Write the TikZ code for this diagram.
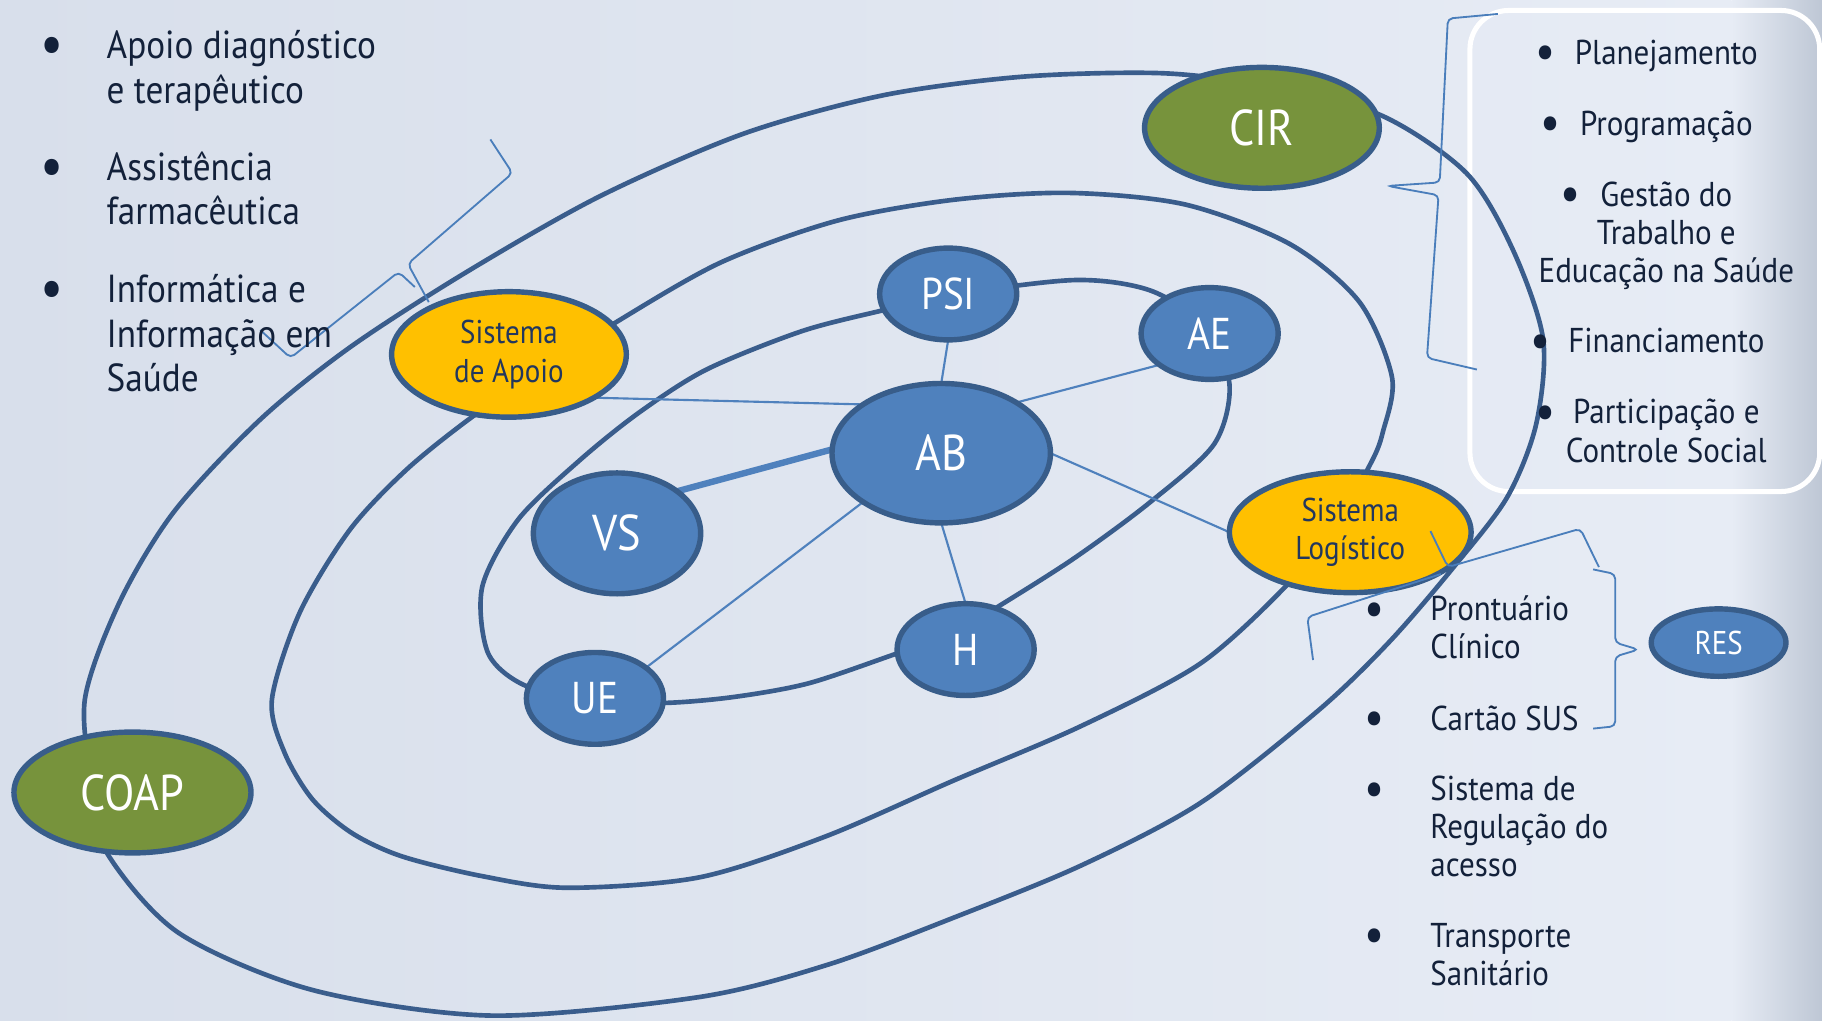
\documentclass[tikz,border=0pt]{standalone}
\usepackage{fontspec}
\setmainfont{PT Sans}[FakeStretch=0.88]
\newfontfamily\listfont{PT Sans}[FakeStretch=0.9]
\usetikzlibrary{shapes.geometric}

\definecolor{bgA}{HTML}{D8DFEB}
\definecolor{bgB}{HTML}{E7ECF5}
\definecolor{bgC}{HTML}{BEC7D5}
\definecolor{ringc}{HTML}{3A5D8C}
\definecolor{nodeblue}{HTML}{4F81BD}
\definecolor{edgeblue}{HTML}{385D8A}
\definecolor{lineblue}{HTML}{4A7EBB}
\definecolor{olive}{HTML}{77933C}
\definecolor{gold}{HTML}{FFC000}
\definecolor{navy}{HTML}{22375E}
\definecolor{ink}{HTML}{13213A}

\pgfdeclarelayer{bg}
\pgfdeclarelayer{links}
\pgfsetlayers{bg,links,main}

\begin{document}
\begin{tikzpicture}[x=0.6pt, y=-0.6pt,
  ring/.style={draw=ringc, line width=2.4pt},
  link/.style={draw=nodeblue, line width=1.1pt},
  thicklink/.style={draw=nodeblue, line width=3.3pt},
  bracelike/.style={draw=lineblue, line width=0.95pt, rounded corners=2.5pt},
  blob/.style={ellipse, draw=edgeblue, line width=2.8pt, inner sep=0pt, outer sep=0pt},
  bluenode/.style={blob, fill=nodeblue, text=white},
  greennode/.style={blob, fill=olive, text=white},
  goldnode/.style={blob, fill=gold, text=navy, align=center,
    font=\fontsize{17}{19.8}\selectfont},
  bigfont/.style={font=\fontsize{26}{30}\selectfont},
  midfont/.style={font=\fontsize{23}{27}\selectfont},
  listL/.style={text=ink, align=left, inner sep=0pt, anchor=west,
    font=\listfont\fontsize{20.2}{23.1}\selectfont},
  listR/.style={text=ink, align=left, inner sep=0pt, anchor=west,
    font=\listfont\fontsize{17.8}{19.6}\selectfont},
  listBox/.style={text=ink, align=center, inner sep=0pt,
    font=\listfont\fontsize{17.8}{19.8}\selectfont},
  dotL/.style={text=ink, inner sep=0pt, font=\fontsize{30}{30}\selectfont},
  dotR/.style={text=ink, inner sep=0pt, font=\fontsize{26}{26}\selectfont}
]
\useasboundingbox (0,0) rectangle (1568,878);
\clip (0,0) rectangle (1568,878);

% ---------- nodes ----------
\node[greennode, bigfont, minimum width=121.2pt, minimum height=62.4pt] (cir) at (1086,110) {CIR};
\node[greennode, bigfont, minimum width=122.4pt, minimum height=62.4pt] (coap) at (114,682) {COAP};
\node[goldnode, minimum width=121.2pt, minimum height=64.8pt] (apoio) at (438,305) {Sistema\\de Apoio};
\node[goldnode, minimum width=124.8pt, minimum height=62.4pt] (log) at (1162,458) {Sistema\\Logístico};
\node[bluenode, bigfont, minimum width=112.8pt, minimum height=72pt] (ab) at (810,390) {AB};
\node[bluenode, bigfont, minimum width=86.4pt, minimum height=62.4pt] (vs) at (531,459) {VS};
\node[bluenode, midfont, minimum width=70.8pt, minimum height=47.4pt] (psi) at (816,253) {PSI};
\node[bluenode, midfont, minimum width=70.8pt, minimum height=47.4pt] (ae) at (1041,287) {AE};
\node[bluenode, midfont, minimum width=70.8pt, minimum height=47.4pt] (ue) at (512,601) {UE};
\node[bluenode, midfont, minimum width=70.8pt, minimum height=47.4pt] (h) at (831,559) {H};
\node[bluenode, font=\fontsize{17}{20}\selectfont, minimum width=69.6pt, minimum height=34.8pt] (res) at (1479,553) {RES};

% ---------- background, frame and rings ----------
\begin{pgfonlayer}{bg}
  \shade[left color=bgA, right color=bgB] (0,0) rectangle (1490,878);
  \shade[left color=bgB, right color=bgC] (1490,0) rectangle (1568,878);
  \draw[white, line width=2.6pt, rounded corners=20pt] (1265,9) rectangle (1566,423);
  % outer ring through CIR and COAP
  \draw[ring] plot[smooth cycle] coordinates {
    (1090,74) (1188,99) (1262,149) (1302,215) (1328,292) (1322,365) (1297,428)
    (1251,488) (1196,552) (1135,611) (1033,691) (930,745) (820,790) (713,830)
    (602,858) (423,874) (269,852) (154,803) (92,734) (80,680) (73,602) (103,518)
    (150,440) (224,361) (301,299) (400,235) (516,169) (640,115) (760,82) (880,66) (1000,63)};
  % middle ring through the support and logistic systems
  \draw[ring] plot[smooth cycle] coordinates {
    (467,318) (529,278) (620,226) (720,190) (820,172) (920,166) (1020,176)
    (1110,210) (1170,260) (1198,325) (1190,372) (1180,398) (1150,450) (1108,503)
    (1033,571) (930,625) (820,672) (710,720) (602,755) (488,764) (415,754)
    (346,737) (303,717) (269,688) (245,648) (234,602) (258,527) (301,456)
    (350,404) (406,359)};
  % inner ring through PSI, AE, H and UE
  \draw[ring] plot[smooth cycle] coordinates {
    (817,254) (925,241) (990,250) (1035,280) (1058,330) (1045,382) (990,432)
    (925,480) (859,522) (815,548) (773,562) (696,588) (630,600) (569,605)
    (510,602) (452,590) (420,562) (415,505) (446,447) (499,396) (550,355)
    (608,318) (690,285) (760,267)};
\end{pgfonlayer}

% ---------- connectors ----------
\begin{pgfonlayer}{links}
  \draw[link] (apoio.-27) -- (ab.148);
  \draw[thicklink] (vs.35) -- (ab.178);
  \draw[link] (ab.north) -- (psi.south);
  \draw[link] (ab.34) -- (ae.212);
  \draw[link] (ab.east) -- (log.west);
  \draw[link] (ab.south) -- (h.north);
  \draw[link] (ab.212) -- (ue.31);
\end{pgfonlayer}

% ---------- braces ----------
\draw[bracelike] (422,120) -- (441,149) -- (351,227) -- (369,260);
\draw[bracelike] (357,247) -- (343,234) -- (250,308) -- (224,284);
\draw[bracelike] (1289,12) -- (1246,16) -- (1239,157) -- (1194,160) -- (1238,168) -- (1228,308) -- (1271,318);
\draw[bracelike] (1376,488) -- (1360,455) -- (1246,488) -- (1231,457);
\draw[bracelike] (1240,494) -- (1125,531) -- (1130,568);
\draw[bracelike] (1371,490) -- (1390,494) -- (1390,553) -- (1410,559) -- (1390,565) -- (1390,625) -- (1371,627);

% ---------- left list ----------
\node[dotL] (dl1) at (44.5,43.5) {•};
\node[dotL] (dl2) at (44.5,148.5) {•};
\node[dotL] (dl3) at (44.5,253) {•};
\node[listL] (tl1) at (91.5,62) {\strut Apoio diagnóstico\\\strut e terapêutico};
\node[listL] (tl2) at (91.5,166.5) {\strut Assistência\\\strut farmacêutica};
\node[listL] (tl3) at (91.5,291) {\strut Informática e\\\strut Informação em\\\strut Saúde};

% ---------- framed list ----------
\node[dotR] (dr1) at (1330,49.5) {•};
\node[dotR] (dr2) at (1334.5,110) {•};
\node[dotR] (dr3) at (1351.7,171) {•};
\node[dotR] (dr4) at (1326,297.5) {•};
\node[dotR] (dr5) at (1330,359) {•};
\node[listBox] (tr1) at (1434,49) {\strut Planejamento};
\node[listBox] (tr2) at (1434,109.7) {\strut Programação};
\node[listBox] (tr3) at (1434,203.8) {\strut Gestão do\\\strut Trabalho e\\\strut Educação na Saúde};
\node[listBox] (tr4) at (1434,297) {\strut Financiamento};
\node[listBox] (tr5) at (1434,374.5) {\strut Participação e\\\strut Controle Social};

% ---------- logistic list ----------
\node[dotR] (db1) at (1183,528.5) {•};
\node[dotR] (db2) at (1183,622.5) {•};
\node[dotR] (db3) at (1183,683.5) {•};
\node[dotR] (db4) at (1183,809.5) {•};
\node[listR] (tb1) at (1230.7,544) {\strut Prontuário\\\strut Clínico};
\node[listR] (tb2) at (1230.7,622) {\strut Cartão SUS};
\node[listR] (tb3) at (1230.7,715) {\strut Sistema de\\\strut Regulação do\\\strut acesso};
\node[listR] (tb4) at (1230.7,825) {\strut Transporte\\\strut Sanitário};
\end{tikzpicture}
\end{document}
